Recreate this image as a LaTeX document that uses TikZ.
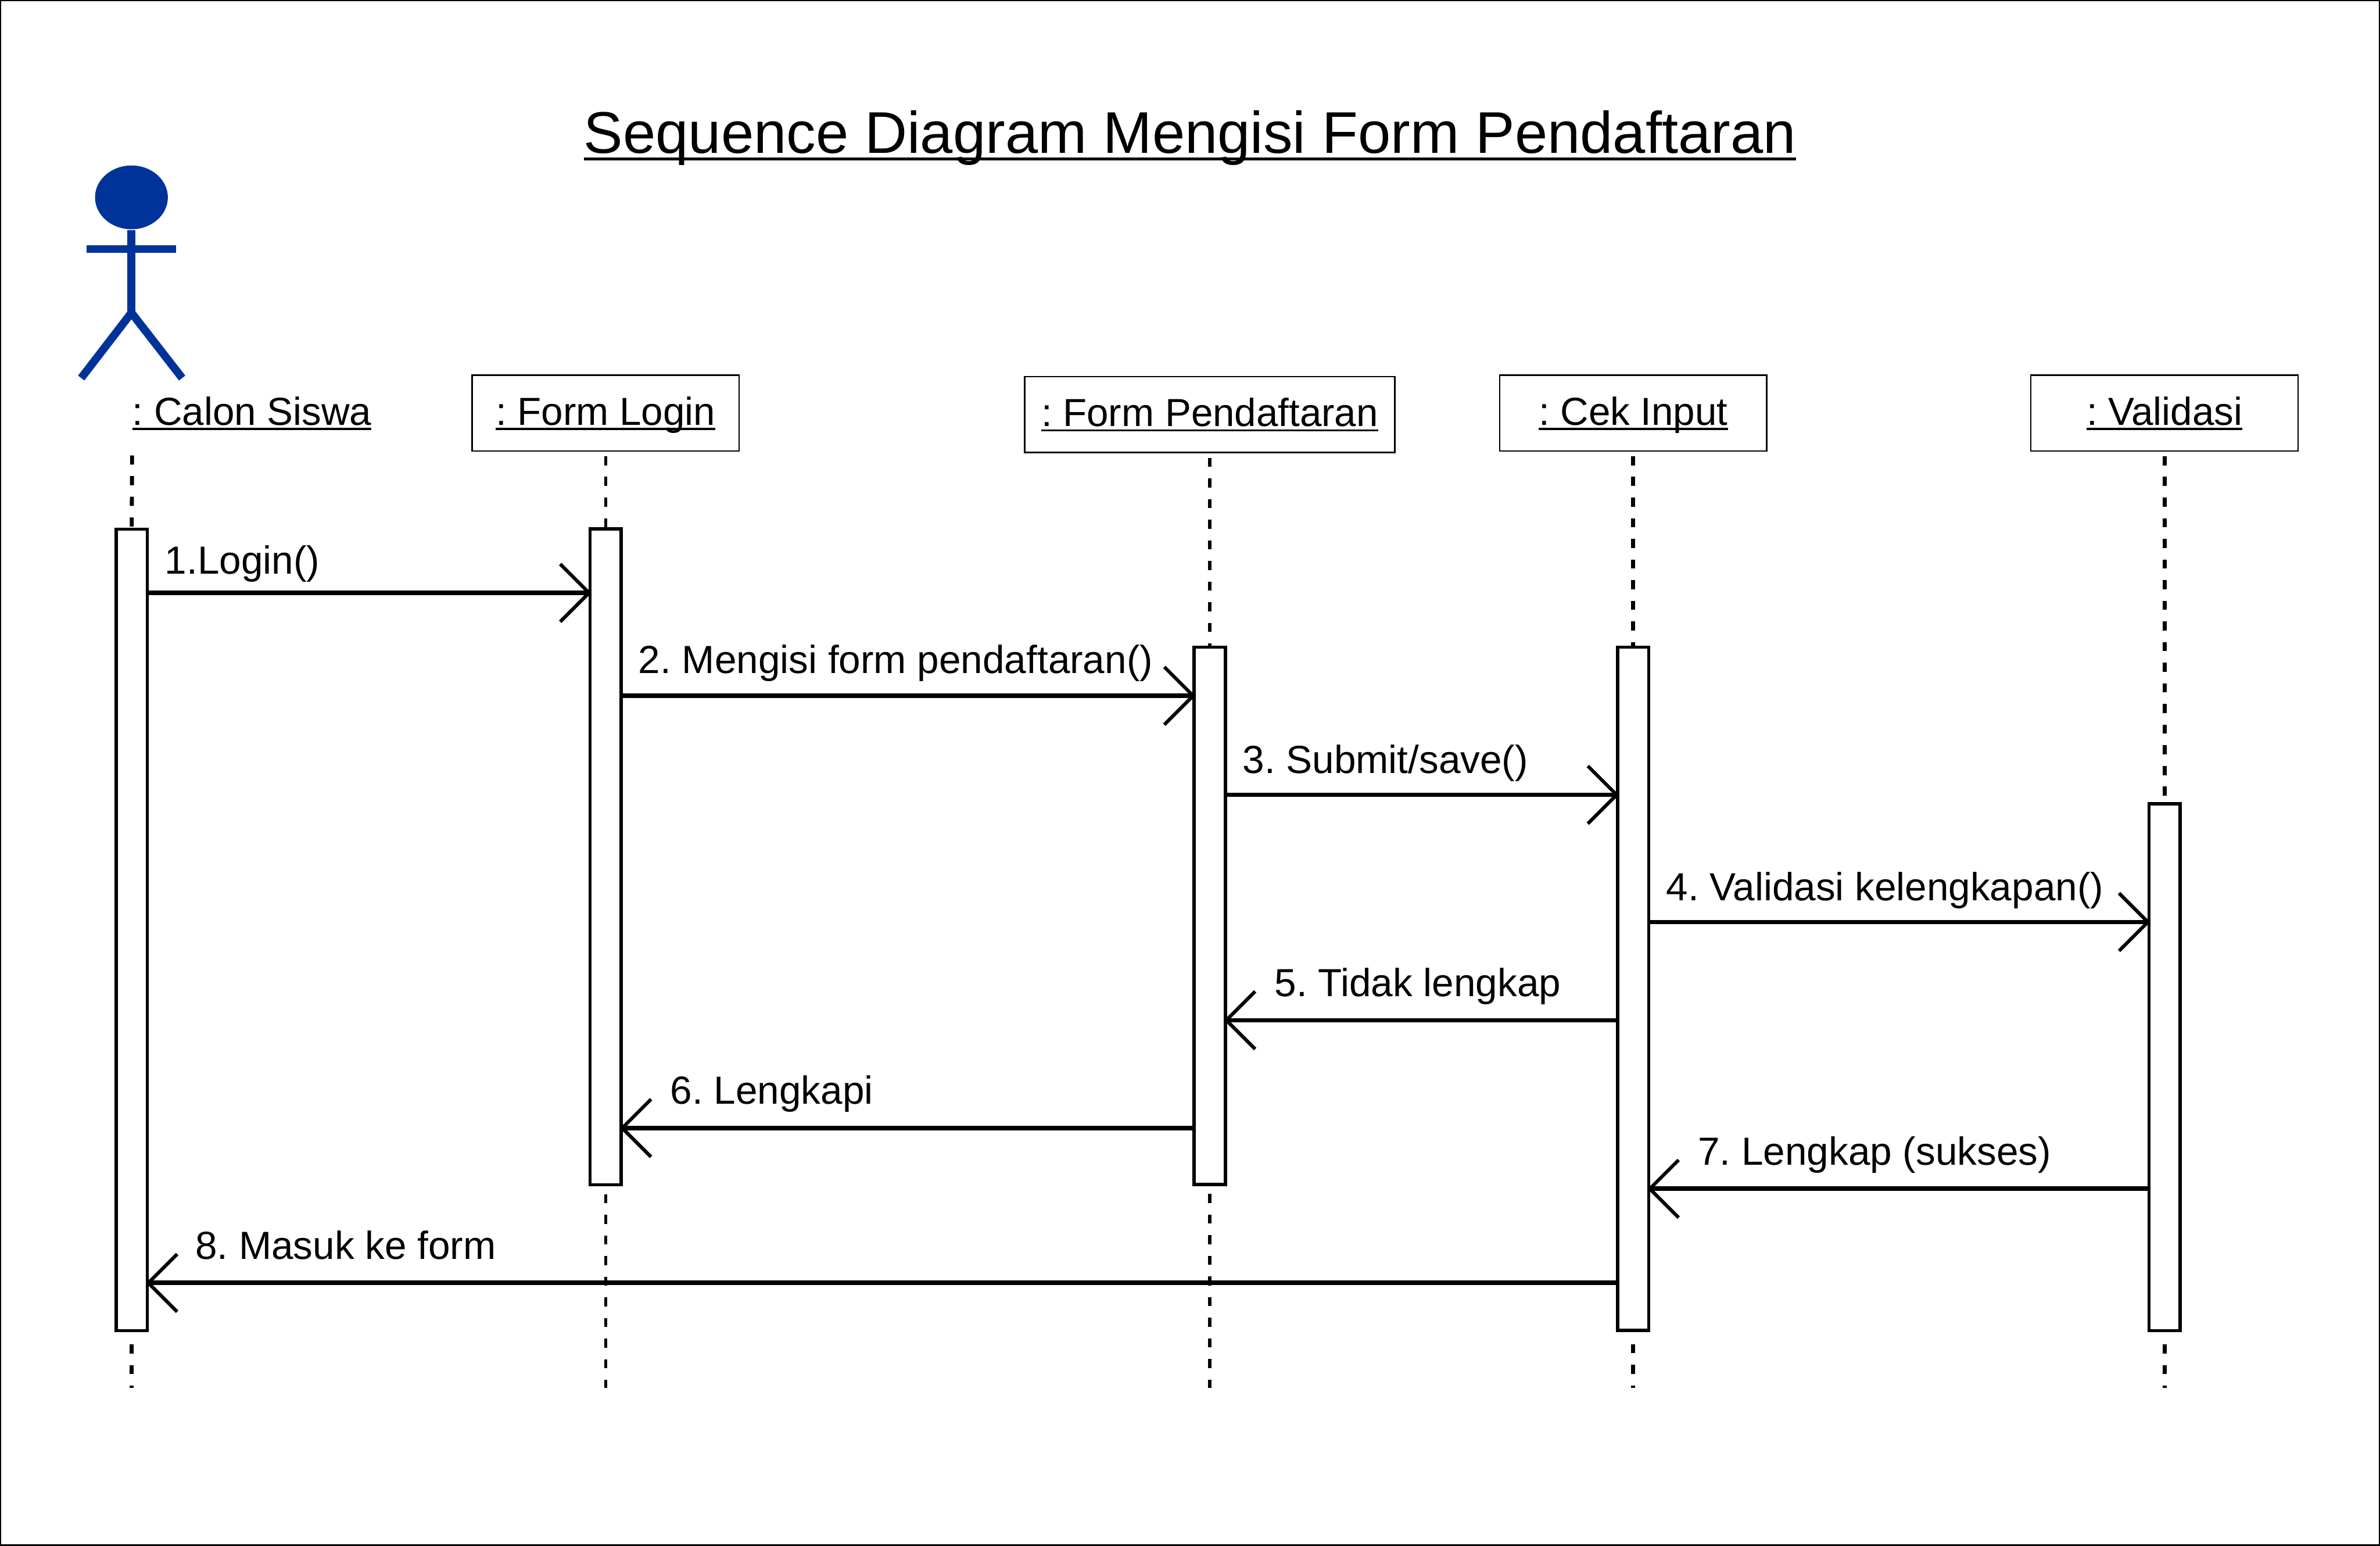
\documentclass[tikz,border=0pt]{standalone}
\usepackage{fontspec}
\setmainfont{Liberation Sans}
\usepackage{tikz}
\usetikzlibrary{shapes.geometric, arrows.meta, positioning, calc}

\definecolor{actorblue}{HTML}{003399}
\newcommand{\undertext}[1]{\setbox0=\hbox{#1}\rlap{\rule[-0.125em]{\wd0}{0.05em}}\box0}
\frenchspacing

\begin{document}
\begin{tikzpicture}[
    x=0.1mm, y=-0.1mm,
    objbox/.style={rectangle, draw, line width=0.28pt, minimum width=17.6mm, minimum height=5mm, inner sep=0pt, text height=6pt, text depth=1.5pt, font=\fontsize{7.33}{9}\selectfont},
    objname/.style={inner sep=0pt, anchor=base west, font=\fontsize{7.33}{9}\selectfont},
    actbox/.style={rectangle, draw, fill=white, line width=0.6pt, minimum width=2.05mm, inner sep=0pt, anchor=north},
    msgtext/.style={inner sep=0pt, anchor=base west, font=\fontsize{7.35}{9}\selectfont},
    lifeline/.style={line width=0.75pt, dash pattern=on 0.6mm off 0.76mm},
    thinlife/.style={line width=0.5pt, dash pattern=on 0.6mm off 0.76mm},
    msg/.style={line width=0.85pt, shorten >=-0.2mm, -{Straight Barb[length=1.9mm, width=3.8mm, line width=0.65pt]}},
    stick/.style={actorblue, line width=1.5pt}
]
\useasboundingbox (0,0) rectangle (1568,1018);

% Frame
\draw[line width=0.5pt] (0,0) rectangle (1568,1018);

% Title
\node[inner sep=0pt, font=\fontsize{11.02}{13}\selectfont, anchor=base] (title) at (784,101) {\undertext{Sequence Diagram Mengisi Form Pendaftaran}};

% Actor
\node[ellipse, fill=actorblue, minimum width=4.8mm, minimum height=4.2mm, inner sep=0pt] (kepala) at (86.6,130) {};
\coordinate (pinggul) at (86.6,206);
\coordinate (tanganL) at (57,164);
\coordinate (tanganR) at (116,164);
\coordinate (kakiL) at (53.5,249);
\coordinate (kakiR) at (120,249);
\draw[stick] (kepala.south) -- (pinggul);
\draw[stick] (tanganL) -- (tanganR);
\draw[stick] (kakiL) -- (pinggul) -- (kakiR);
\node[objname] (calon) at (86.5,280) {\undertext{: Calon Siswa}};

% Objects
\node[objbox] (login) at (399,272) {\undertext{: Form Login}};
\node[objbox, minimum width=24.4mm] (daftar) at (797,273) {\undertext{: Form Pendaftaran}};
\node[objbox] (cek) at (1076,272) {\undertext{: Cek Input}};
\node[objbox] (valid) at (1426,272) {\undertext{: Validasi}};
\coordinate (calontop) at (87,300);
\coordinate (akhir) at (0,914);

% Activations
\node[actbox, minimum height=52.8mm] (calonact) at (86.8,347.4) {};
\node[actbox, minimum height=43.2mm] (loginact) at (399,347.4) {};
\node[actbox, minimum height=35.4mm] (daftaract) at (797,425.2) {};
\node[actbox, minimum height=45mm] (cekact) at (1076,425.2) {};
\node[actbox, minimum height=34.7mm] (validact) at (1426,528.4) {};

% Lifelines
\draw[lifeline] (calontop) -- (calonact.north);
\draw[lifeline, shorten <=0.8mm] (calonact.south) -- (calonact.south |- akhir);
\draw[thinlife, shorten <=0.3mm] (login.south) -- (loginact.north);
\draw[thinlife, shorten <=0.5mm] (loginact.south) -- (loginact.south |- akhir);
\draw[lifeline, shorten <=0.3mm] (daftar.south) -- (daftaract.north);
\draw[lifeline, shorten <=0.5mm] (daftaract.south) -- (daftaract.south |- akhir);
\draw[lifeline, shorten <=0.3mm] (cek.south) -- (cekact.north);
\draw[lifeline, shorten <=0.8mm] (cekact.south) -- (cekact.south |- akhir);
\draw[lifeline, shorten <=0.3mm] (valid.south) -- (validact.north);
\draw[lifeline, shorten <=0.8mm] (validact.south) -- (validact.south |- akhir);

% Message heights
\coordinate (y1) at (0,390.5);
\coordinate (y2) at (0,458.3);
\coordinate (y3) at (0,523.5);
\coordinate (y4) at (0,607.3);
\coordinate (y5) at (0,672);
\coordinate (y6) at (0,743);
\coordinate (y7) at (0,783);
\coordinate (y8) at (0,845);

% Messages
\draw[msg] (calonact.east |- y1) -- (loginact.west |- y1);
\draw[msg] (loginact.east |- y2) -- (daftaract.west |- y2);
\draw[msg] (daftaract.east |- y3) -- (cekact.west |- y3);
\draw[msg] (cekact.east |- y4) -- (validact.west |- y4);
\draw[msg] (cekact.west |- y5) -- (daftaract.east |- y5);
\draw[msg] (daftaract.west |- y6) -- (loginact.east |- y6);
\draw[msg] (validact.west |- y7) -- (cekact.east |- y7);
\draw[msg] (cekact.west |- y8) -- (calonact.east |- y8);

% Message labels
\node[msgtext] (msg1) at (108,378) {1.Login()};
\node[msgtext] (msg2) at (420,443.5) {2. Mengisi form pendaftaran()};
\node[msgtext] (msg3) at (818,509.5) {3. Submit/save()};
\node[msgtext] (msg4) at (1097,593) {4. Validasi kelengkapan()};
\node[msgtext] (msg5) at (839,656.5) {5. Tidak lengkap};
\node[msgtext] (msg6) at (441,727) {6. Lengkapi};
\node[msgtext] (msg7) at (1118,767.5) {7. Lengkap (sukses)};
\node[msgtext] (msg8) at (128,829.5) {8. Masuk ke form};

\end{tikzpicture}
\end{document}
